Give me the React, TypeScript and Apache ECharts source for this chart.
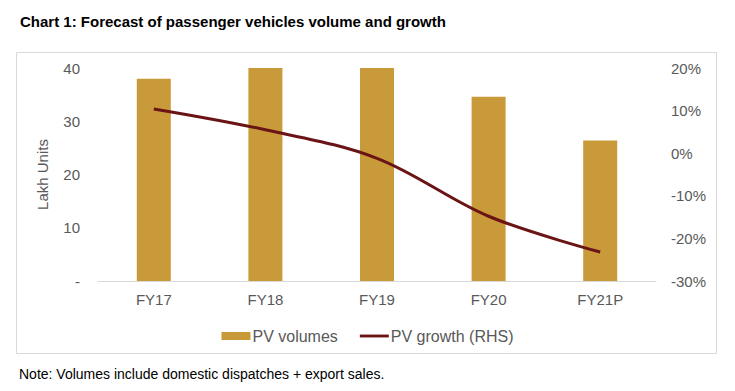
import React, { useEffect, useRef } from "react";
import * as echarts from "echarts";

const categories = ["FY17", "FY18", "FY19", "FY20", "FY21P"];
const volumes = [38, 40, 40, 34.6, 26.4];
const growth = [10.4, 5.5, -1.2, -14.8, -23.2];
const leftTicks = { min: 0, max: 40, interval: 10 };
const rightTicks = { min: -30, max: 20, interval: 10 };

export default function App() {
  const ref = useRef<HTMLDivElement>(null);
  useEffect(() => {
    const chart = echarts.init(ref.current!, null, { renderer: "svg" });
    const font = "Arial, 'Liberation Sans', sans-serif";
    chart.setOption({
      animation: false,
      backgroundColor: "#ffffff",
      textStyle: { fontFamily: font },
      title: [
        {
          text: "Chart 1: Forecast of passenger vehicles volume and growth",
          left: 15,
          top: 9,
          textStyle: { fontSize: 15, fontWeight: "bold", color: "#000000", fontFamily: font },
        },
        {
          text: "Note: Volumes include domestic dispatches + export sales.",
          left: 14,
          top: 362,
          textStyle: { fontSize: 14, fontWeight: "normal", color: "#000000", fontFamily: font },
        },
      ],
      graphic: [
        {
          type: "rect",
          shape: { x: 16.5, y: 52.5, width: 700, height: 301 },
          style: { fill: "none", stroke: "#D9D9D9", lineWidth: 1 },
          silent: true,
          z: -1,
        },
      ],
      legend: {
        top: 323,
        left: "center",
        itemGap: 22,
        itemWidth: 29,
        itemHeight: 8,
        textStyle: { fontSize: 16, color: "#595959", fontFamily: font, padding: [0, 0, 0, -3] },
        data: [
          { name: "PV volumes", icon: "rect" },
          { name: "PV growth (RHS)", icon: "path://M0,0 L30,0 L30,3 L0,3 Z" },
        ],
      },
      grid: { left: 98, right: 79, top: 68, bottom: 110 },
      xAxis: {
        type: "category",
        data: categories,
        axisLine: { lineStyle: { color: "#D9D9D9", width: 1 } },
        axisTick: { show: false },
        axisLabel: { color: "#595959", fontSize: 15, margin: 11 },
      },
      yAxis: [
        {
          type: "value",
          min: leftTicks.min,
          max: leftTicks.max,
          interval: leftTicks.interval,
          name: "Lakh Units",
          nameLocation: "middle",
          nameGap: 48,
          nameTextStyle: { color: "#595959", fontSize: 15 },
          splitLine: { show: false },
          axisLine: { show: false },
          axisTick: { show: false },
          axisLabel: {
            color: "#595959",
            fontSize: 15,
            margin: 18,
            formatter: (v: number) => (v === 0 ? "-" : String(v)),
          },
        },
        {
          type: "value",
          min: rightTicks.min,
          max: rightTicks.max,
          interval: rightTicks.interval,
          splitLine: { show: false },
          axisLine: { show: false },
          axisTick: { show: false },
          axisLabel: {
            color: "#595959",
            fontSize: 15,
            margin: 15,
            formatter: (v: number) => `${Math.round(v)}%`,
          },
        },
      ],
      series: [
        {
          name: "PV volumes",
          type: "bar",
          data: volumes,
          barWidth: 34,
          itemStyle: { color: "#C99A3A" },
          yAxisIndex: 0,
        },
        {
          name: "PV growth (RHS)",
          type: "line",
          data: growth,
          yAxisIndex: 1,
          smooth: 0.35,
          showSymbol: false,
          symbol: "none",
          lineStyle: { color: "#6B1416", width: 3 },
          itemStyle: { color: "#6B1416" },
        },
      ],
    });
    return () => chart.dispose();
  }, []);
  return (
    <div
      ref={ref}
      style={{ position: "fixed", left: 0, top: 0, width: 735, height: 391 }}
    />
  );
}
